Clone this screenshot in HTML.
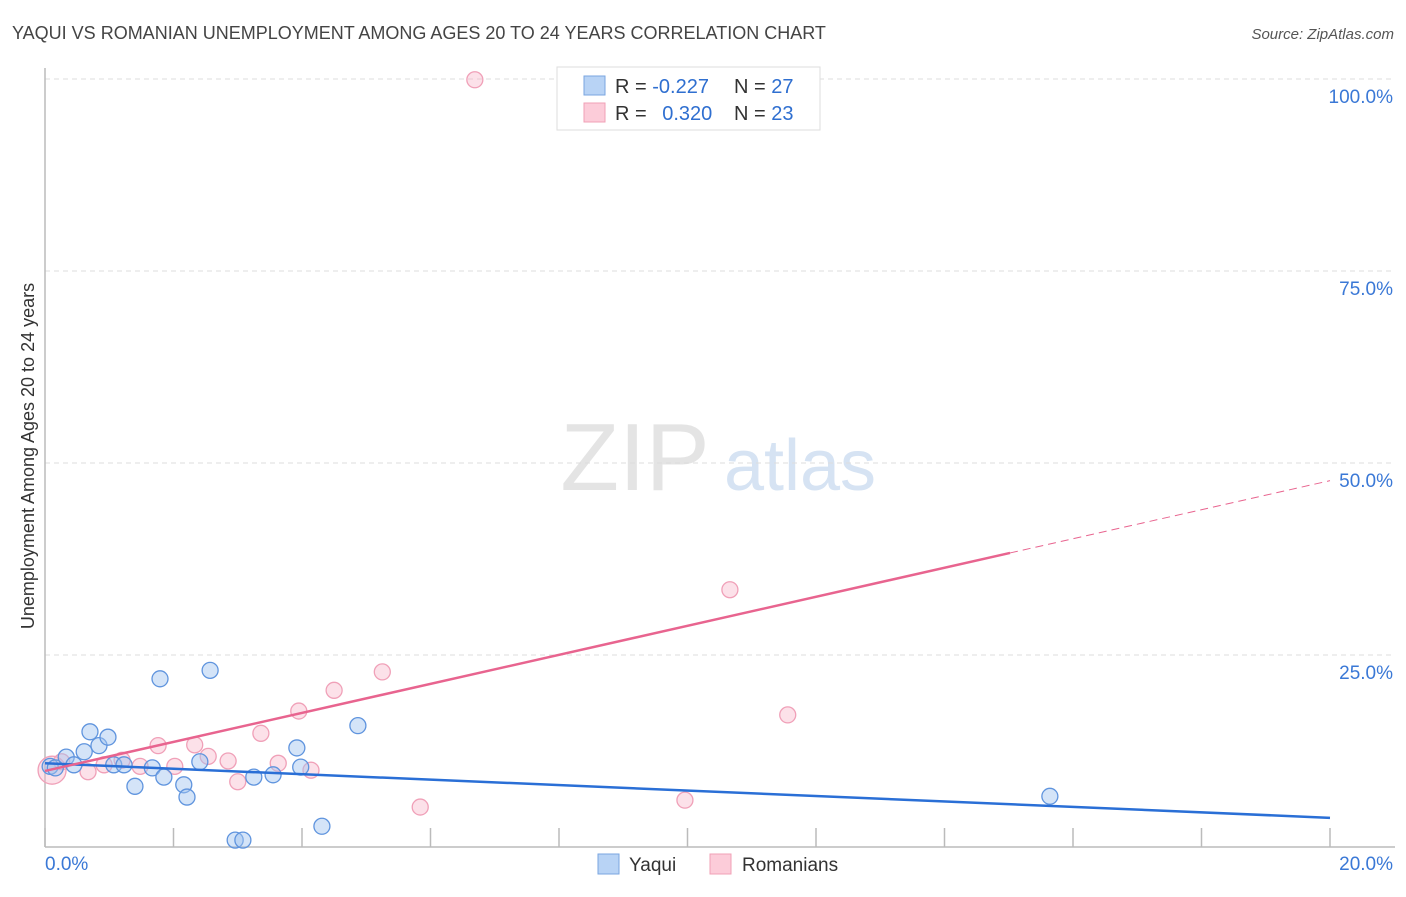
<!DOCTYPE html>
<html><head><meta charset="utf-8"><style>
body{margin:0;background:#fff;font-family:"Liberation Sans",sans-serif;}
svg text{font-family:"Liberation Sans",sans-serif;}
</style></head><body>
<svg id="chart" width="1406" height="892" xmlns="http://www.w3.org/2000/svg">
<text x="12" y="39" font-size="18" fill="#444">YAQUI VS ROMANIAN UNEMPLOYMENT AMONG AGES 20 TO 24 YEARS CORRELATION CHART</text>
<text x="1394" y="39" font-size="15" fill="#555" font-style="italic" text-anchor="end">Source: ZipAtlas.com</text>
<text x="34" y="456" font-size="18" fill="#333" text-anchor="middle" transform="rotate(-90 34 456)">Unemployment Among Ages 20 to 24 years</text>
<g>
<text x="635" y="490" font-size="96" fill="#e4e4e4" font-family="Liberation Serif" text-anchor="middle">ZIP</text>
<text x="800" y="490" font-size="72" fill="#d6e3f3" text-anchor="middle">atlas</text>
</g>
<g id="grid"></g>
<g id="marks"></g>
<g>
<rect x="557" y="67" width="263" height="63" fill="#fff" stroke="#ddd"/>
<rect x="584" y="76" width="21" height="19" fill="#b8d3f5" stroke="#7aa6e0"/>
<rect x="584" y="103" width="21" height="19" fill="#fcccd9" stroke="#f0a0b6"/>
<text x="615" y="93" font-size="20" fill="#333">R = <tspan fill="#2f6fd0">-0.227</tspan></text>
<text x="734" y="93" font-size="20" fill="#333">N = <tspan fill="#2f6fd0">27</tspan></text>
<text x="615" y="120" font-size="20" fill="#333">R = <tspan fill="#2f6fd0" dx="10">0.320</tspan></text>
<text x="734" y="120" font-size="20" fill="#333">N = <tspan fill="#2f6fd0">23</tspan></text>
</g>
<g>
<rect x="598" y="854" width="21" height="20" fill="#b8d3f5" stroke="#7aa6e0"/>
<text x="629" y="871" font-size="19" fill="#333">Yaqui</text>
<rect x="710" y="854" width="21" height="20" fill="#fcccd9" stroke="#f0a0b6"/>
<text x="742" y="871" font-size="19" fill="#333">Romanians</text>
</g>
</svg>
<script>
const yaquiX=[0.08,0.16,0.33,0.45,0.61,0.70,0.84,0.98,1.07,1.23,1.40,1.67,1.79,1.85,2.16,2.21,2.41,2.57,2.96,3.08,3.25,3.55,3.92,3.98,4.31,4.87,15.64];
const yaquiY=[10.5,10.3,11.7,10.7,12.4,15.0,13.2,14.3,10.7,10.7,7.9,10.3,21.9,9.1,8.1,6.5,11.1,23.0,0.9,0.9,9.1,9.4,12.9,10.4,2.7,15.8,6.6];
const romX=[0.11,0.26,0.67,0.92,1.20,1.48,1.76,2.02,2.33,2.54,2.85,3.00,3.36,3.63,3.95,4.14,4.50,5.25,5.84,6.69,9.96,10.66,11.56];
const romY=[10.0,11.1,9.8,10.7,11.3,10.5,13.2,10.5,13.3,11.8,11.2,8.5,14.8,10.9,17.7,10.0,20.4,22.8,5.2,99.9,6.1,33.5,17.2];
const yTicks=[25,50,75,100];
const yTickLabels=["25.0%","50.0%","75.0%","100.0%"];
const xTicks=[0,2,4,6,8,10,12,14,16,18,20];
const yaquiTrend=[10.9,3.8];
const romTrend=[9.9,1.89];
const romSolidEnd=15.02;

const NS="http://www.w3.org/2000/svg";
const X=v=>45+v*64.25, Y=v=>847-v*7.68;
function mk(tag,attrs,parent){const e=document.createElementNS(NS,tag);for(const k in attrs)e.setAttribute(k,attrs[k]);parent.appendChild(e);return e;}
const grid=document.getElementById('grid'), marks=document.getElementById('marks');
yTicks.forEach((t,i)=>{
  const l=mk('line',{x1:45,x2:1395,y1:Y(t),y2:Y(t),stroke:'#ddd','stroke-dasharray':'5,4'},grid);
  
  
  const tx=mk('text',{x:1393,y:Y(t)+24,'font-size':19,fill:'#3a78d6','text-anchor':'end'},grid);
  tx.textContent=yTickLabels[i];
  
  
});
const ax=mk('line',{x1:45,x2:45,y1:68,y2:847,stroke:'#bbb','stroke-width':1.5},grid);


const bx=mk('line',{x1:45,x2:1395,y1:847,y2:847,stroke:'#bbb','stroke-width':1.5},grid);


xTicks.forEach(t=>{
  const l=mk('line',{x1:X(t),x2:X(t),y1:828,y2:847,stroke:'#bbb','stroke-width':1.5},grid);
  
  
});
const xl0=mk('text',{x:45,y:870,'font-size':19,fill:'#3a78d6'},grid);xl0.textContent=xTicks[0].toFixed(1)+'%';


const xl1=mk('text',{x:1393,y:870,'font-size':19,fill:'#3a78d6','text-anchor':'end'},grid);xl1.textContent=xTicks[xTicks.length-1].toFixed(1)+'%';



romX.forEach((x,i)=>{
  const c=mk('circle',{cx:X(x),cy:Y(romY[i]),r:i===0?14:8,fill:'rgba(248,180,200,0.4)',stroke:'#f0a0b8','stroke-width':1.3},marks);
  
  
});
yaquiX.forEach((x,i)=>{
  const c=mk('circle',{cx:X(x),cy:Y(yaquiY[i]),r:8,fill:'rgba(160,195,240,0.45)',stroke:'#5f94de','stroke-width':1.3},marks);
  
  
});
const yt=mk('line',{x1:X(0),y1:Y(yaquiTrend[0]),x2:X(20),y2:Y(yaquiTrend[1]),stroke:'#2a6fd6','stroke-width':2.5},marks);


const rt=mk('line',{x1:X(0),y1:Y(romTrend[0]),x2:X(romSolidEnd),y2:Y(romTrend[0]+romTrend[1]*romSolidEnd),stroke:'#e8648f','stroke-width':2.5},marks);


const rd=mk('line',{x1:X(romSolidEnd),y1:Y(romTrend[0]+romTrend[1]*romSolidEnd),x2:X(20),y2:Y(romTrend[0]+romTrend[1]*20),stroke:'#e8648f','stroke-width':1,'stroke-dasharray':'8,5'},marks);


</script>
</body></html>
